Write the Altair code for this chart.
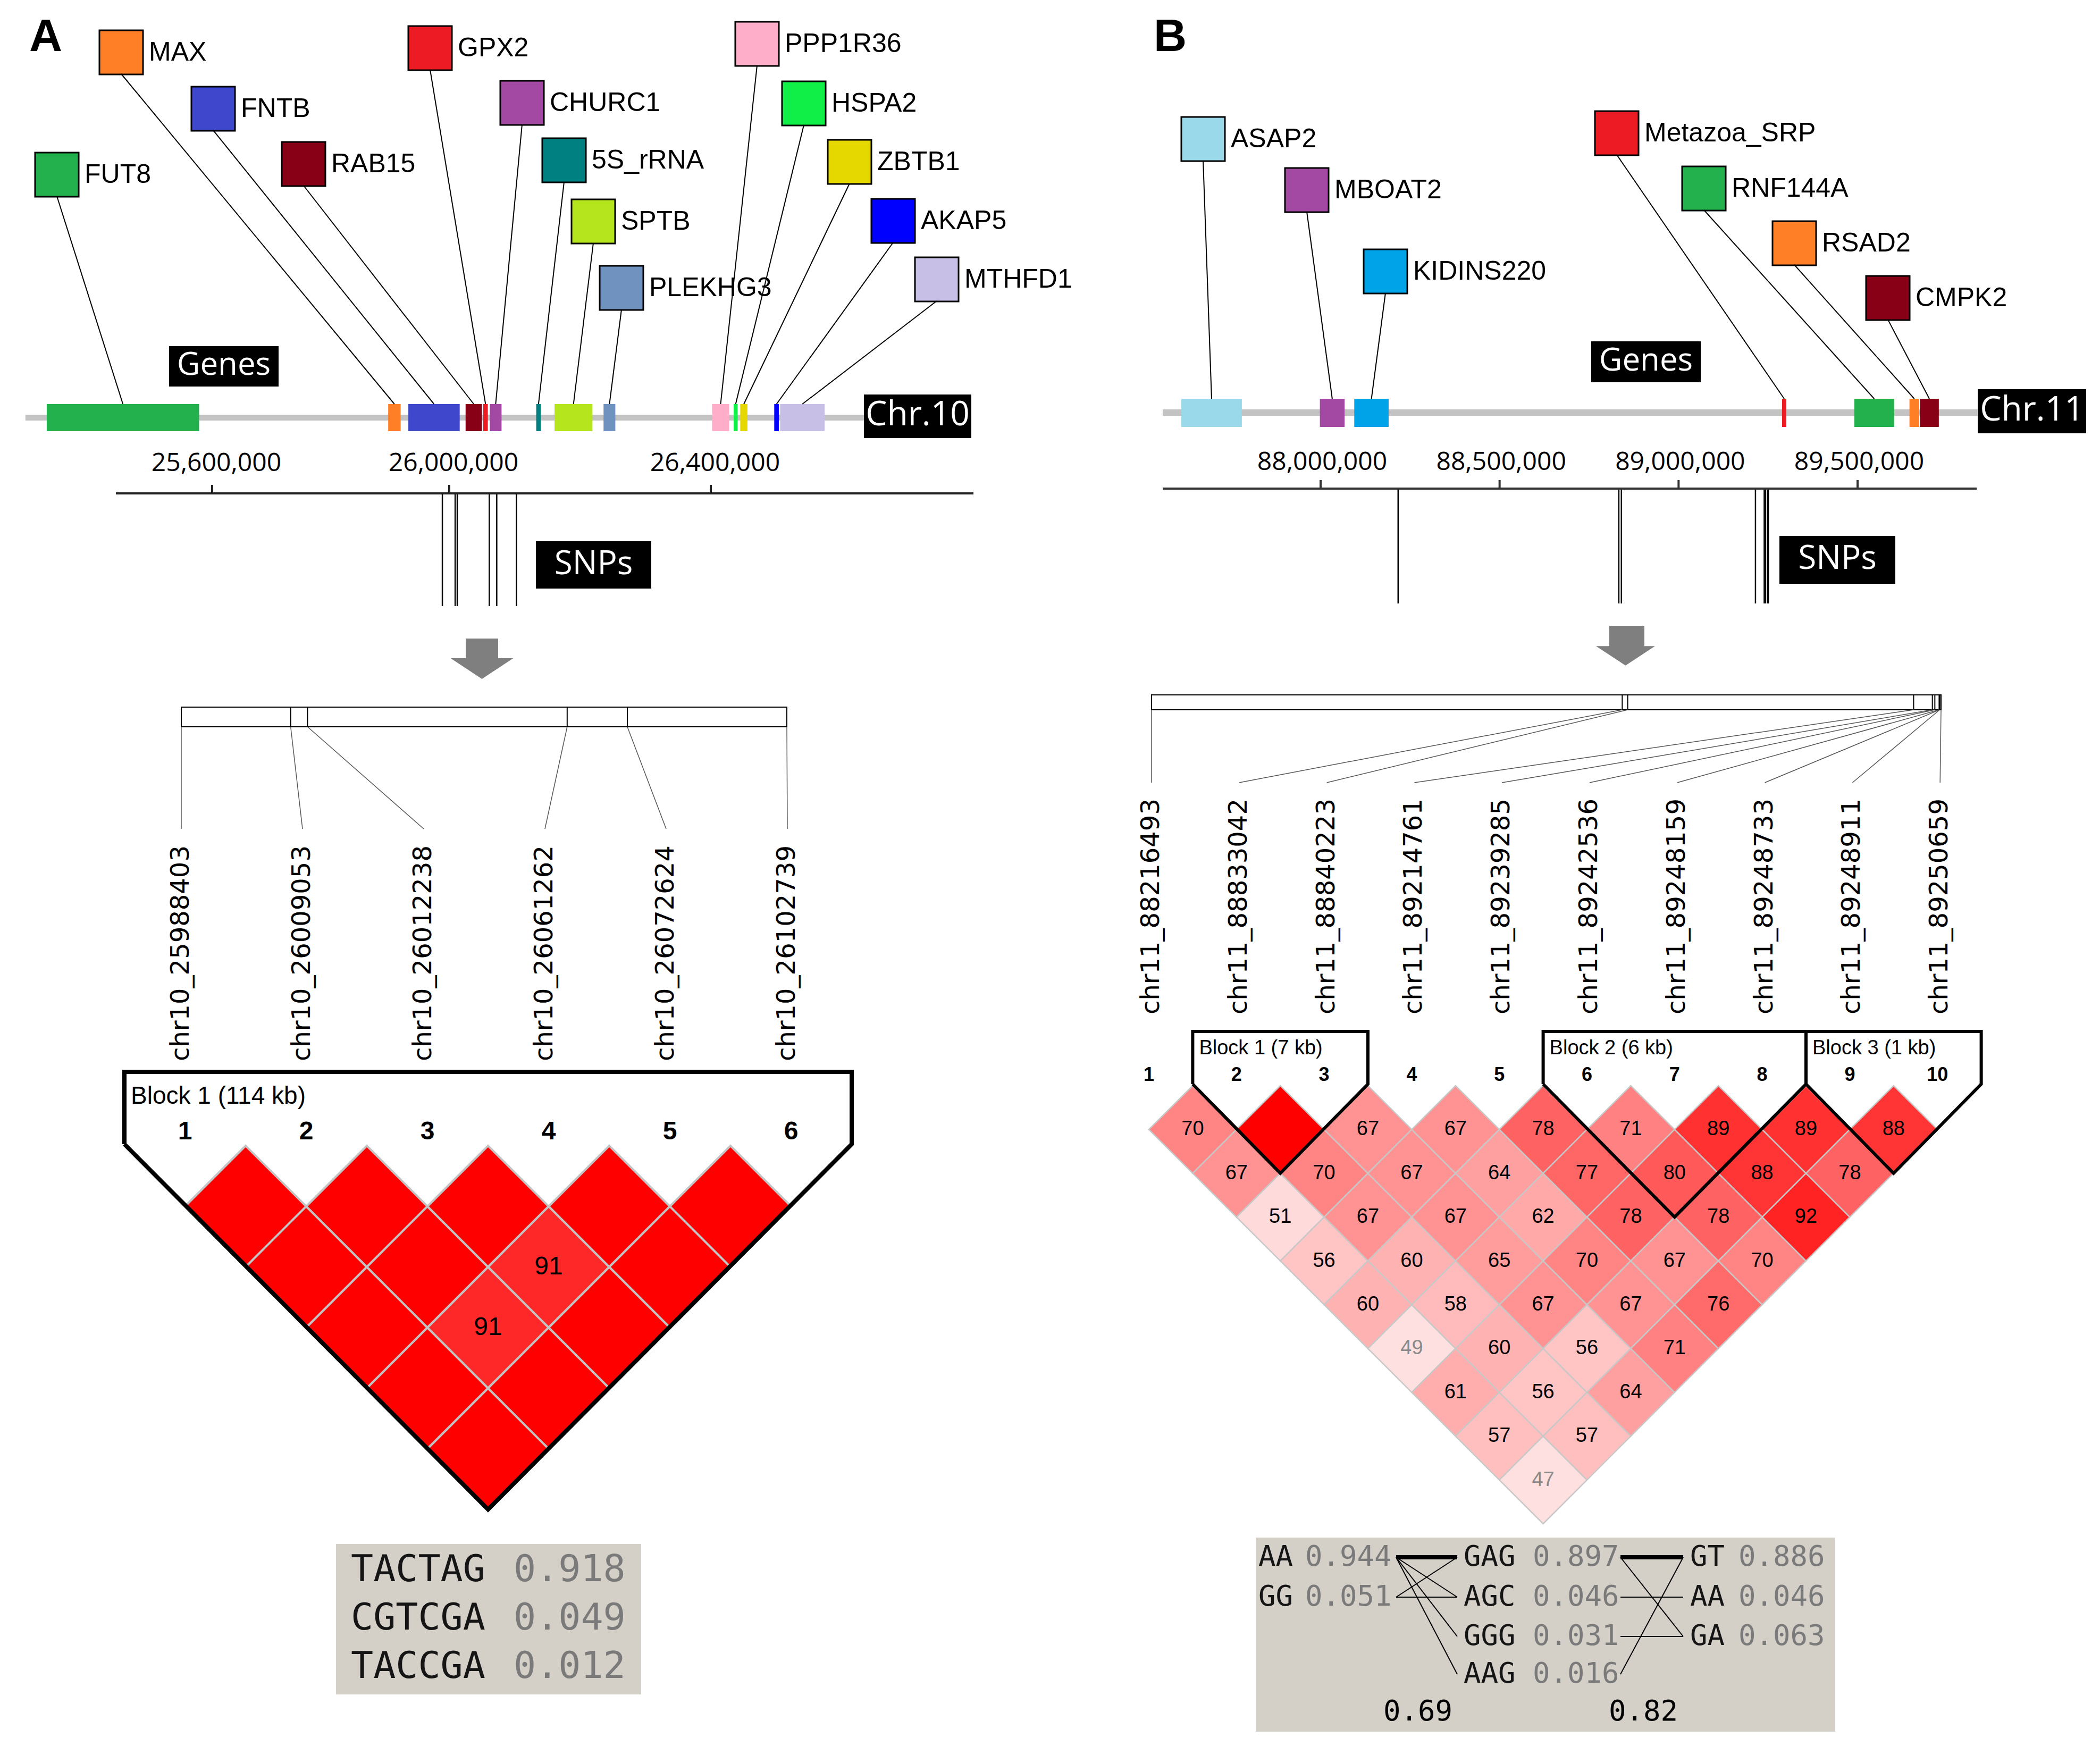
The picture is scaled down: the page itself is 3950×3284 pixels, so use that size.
import altair as alt
import pandas as pd

# ================= DATA: panel A (Chr.10) =================
A_GENE_NAMES = ["FUT8", "MAX", "FNTB", "RAB15", "GPX2", "CHURC1", "5S_rRNA", "SPTB",
                "PLEKHG3", "PPP1R36", "HSPA2", "ZBTB1", "AKAP5", "MTHFD1"]
A_GENE_START = [25321000, 25897000, 25931000, 26025000, 26052000, 26062000, 26133000,
                26161000, 26236000, 26402000, 26435000, 26445000, 26497000, 26506000]
A_GENE_END = [25578000, 25918000, 26016000, 26050000, 26059000, 26080000, 26140000,
              26219000, 26254000, 26428000, 26441000, 26456000, 26504000, 26574000]
A_GENE_COLORS = ["#22b14c", "#ff7f27", "#3f48cc", "#880015", "#ed1c24", "#a349a4", "#008080",
                 "#b5e61d", "#7092be", "#ffaec9", "#10ef48", "#e5d800", "#0000ff", "#c8bfe7"]
A_CHR_SPAN = [25285000, 26637000]
A_CHR_NAME = "Chr.10"
A_TICKS = [25600000, 26000000, 26400000]
A_TICK_LABELS = ["25,600,000", "26,000,000", "26,400,000"]
A_SNP_POS = [25988403, 26009053, 26012238, 26061262, 26072624, 26102739]
A_SNP_NAMES = ["chr10_25988403", "chr10_26009053", "chr10_26012238",
               "chr10_26061262", "chr10_26072624", "chr10_26102739"]
# D' (x100) of marker i with markers i+1..n
A_DPRIME = [
    [100, 100, 100, 100, 100],
    [100, 100, 91, 100],
    [100, 91, 100],
    [100, 100],
    [100],
]
A_BLOCKS = [("Block 1 (114 kb)", 1, 6)]
A_HAPS = ["TACTAG", "CGTCGA", "TACCGA"]
A_HAP_FREQ = ["0.918", "0.049", "0.012"]

# ================= DATA: panel B (Chr.11) =================
B_GENE_NAMES = ["ASAP2", "MBOAT2", "KIDINS220", "Metazoa_SRP", "RNF144A", "RSAD2", "CMPK2"]
B_GENE_START = [87611000, 87998000, 88094000, 89289000, 89491000, 89645000, 89674000]
B_GENE_END = [87780000, 88067000, 88190000, 89301000, 89602000, 89672000, 89727000]
B_GENE_COLORS = ["#99d9ea", "#a349a4", "#00a2e8", "#ed1c24", "#22b14c", "#ff7f27", "#880015"]
B_CHR_SPAN = [87559000, 89835000]
B_CHR_NAME = "Chr.11"
B_TICKS = [88000000, 88500000, 89000000, 89500000]
B_TICK_LABELS = ["88,000,000", "88,500,000", "89,000,000", "89,500,000"]
B_SNP_POS = [88216493, 88833042, 88840223, 89214761, 89239285,
             89242536, 89248159, 89248733, 89248911, 89250659]
B_SNP_NAMES = ["chr11_88216493", "chr11_88833042", "chr11_88840223", "chr11_89214761",
               "chr11_89239285", "chr11_89242536", "chr11_89248159", "chr11_89248733",
               "chr11_89248911", "chr11_89250659"]
B_DPRIME = [
    [70, 67, 51, 56, 60, 49, 61, 57, 47],
    [100, 70, 67, 60, 58, 60, 56, 57],
    [67, 67, 67, 65, 67, 56, 64],
    [67, 64, 62, 70, 67, 71],
    [78, 77, 78, 67, 76],
    [71, 80, 78, 70],
    [89, 88, 92],
    [89, 78],
    [88],
]
B_BLOCKS = [("Block 1 (7 kb)", 2, 3), ("Block 2 (6 kb)", 6, 8), ("Block 3 (1 kb)", 9, 10)]
B_HAP_COLS = [["AA", "GG"], ["GAG", "AGC", "GGG", "AAG"], ["GT", "AA", "GA"]]
B_HAP_FREQS = [["0.944", "0.051"], ["0.897", "0.046", "0.031", "0.016"], ["0.886", "0.046", "0.063"]]
# crossing links between haplotype columns: (from row, to row, thick?)
B_LINKS_12 = [(0, 0, True), (0, 1, False), (0, 2, False), (0, 3, False), (1, 0, False), (1, 1, False)]
B_LINKS_23 = [(0, 0, True), (0, 2, False), (1, 1, False), (2, 2, False), (3, 0, False)]
B_MULTI_DPRIME = ["0.69", "0.82"]

# ================= LAYOUT (page pixels) =================
A_TICK_PX = [399, 845, 1337]
B_TICK_PX = [2484, 3494]       # 88.0M and 89.5M


def a_x(bp):
    t, p = A_TICKS, A_TICK_PX
    if bp <= t[1]:
        return p[0] + (bp - t[0]) * (p[1] - p[0]) / (t[1] - t[0])
    return p[1] + (bp - t[1]) * (p[2] - p[1]) / (t[2] - t[1])


def b_x(bp):
    return B_TICK_PX[0] + (bp - 88000000) * (B_TICK_PX[1] - B_TICK_PX[0]) / 1500000.0


A_SQ = [(66, 287), (187, 57), (360, 163), (530, 267), (768, 49), (941, 152), (1020, 260),
        (1075, 375), (1128, 500), (1383, 41), (1471, 153), (1557, 263), (1639, 374), (1721, 484)]
B_SQ = [(2222, 220), (2417, 316), (2565, 469), (3000, 209), (3164, 313), (3334, 416), (3510, 519)]
SQ = 82

R, L, P, D, TRI = [], [], [], [], []
TXT = {}


def rect(x, x2, y, y2, fill, stroke="transparent", sw=0):
    R.append(dict(x=x, x2=x2, y=y, y2=y2, fill=fill, stroke=stroke, sw=sw))


def rule(x, y, x2, y2, col="#000000", sw=2):
    L.append(dict(x=x, y=y, x2=x2, y2=y2, col=col, sw=sw))


def text(key, x, y, t, fs, col="#000000"):
    TXT.setdefault(key, []).append(dict(x=x, y=y, t=t, fs=fs, col=col))


def dcolor(v):
    d = v / 100.0
    if d < 0.5:
        g = 224
    else:
        g = int((255 - 32) * 2 * (1 - d))
    return "#ff%02x%02x" % (g, g)


# haplotype box backgrounds
rect(632, 1206, 2904, 3187, "#d4d0c8")
rect(2362, 3452, 2892, 3257, "#d4d0c8")

# ---- gene tracks ----
for (span, fx, ytr, yg, genes, st, en, cols, sqs) in [
        (A_CHR_SPAN, a_x, (780, 791), (760, 811), A_GENE_NAMES, A_GENE_START, A_GENE_END, A_GENE_COLORS, A_SQ),
        (B_CHR_SPAN, b_x, (770, 782), (750, 803), B_GENE_NAMES, B_GENE_START, B_GENE_END, B_GENE_COLORS, B_SQ)]:
    rect(fx(span[0]), fx(span[1]), ytr[0], ytr[1], "#c3c3c3")
    for g, s, e, c, (sx, sy) in zip(genes, st, en, cols, sqs):
        gx0, gx1 = fx(s), fx(e)
        rect(gx0, max(gx1, gx0 + 4), yg[0], yg[1], c)
        rule(sx + SQ / 2, sy + SQ, (gx0 + gx1) / 2, yg[0], "#000000", 2)
        rect(sx, sx + SQ, sy, sy + SQ + 1, c, "#000000", 3)
        text("gene", sx + SQ + 11, sy + SQ / 2 + 1, g, 50)

# black label boxes
for (x0, x1, y0, y1, t, fs) in [(318, 524, 651, 727, "Genes", 60), (1625, 1827, 742, 824, A_CHR_NAME, 64),
                                (1008, 1225, 1018, 1107, "SNPs", 62), (2993, 3199, 642, 719, "Genes", 60),
                                (3720, 3924, 732, 815, B_CHR_NAME, 64), (3347, 3565, 1008, 1098, "SNPs", 62)]:
    rect(x0, x1, y0, y1, "#000000")
    text("box", (x0 + x1) / 2, (y0 + y1) / 2 - 2, t, fs, "#ffffff")

# axes
rule(218, 928, 1831, 928, "#222222", 4)
for t, lab in zip(A_TICKS, A_TICK_LABELS):
    rule(a_x(t), 912, a_x(t), 928, "#222222", 4)
    text("tick", a_x(t) + 8, 872, lab, 48)
rule(2187, 919, 3718, 919, "#333333", 4)
for t, lab in zip(B_TICKS, B_TICK_LABELS):
    rule(b_x(t), 903, b_x(t), 919, "#333333", 4)
    text("tick", b_x(t) + 3, 870, lab, 48)
for p in A_SNP_POS:
    rule(a_x(p), 930, a_x(p), 1140, "#000000", 2.5)
for p in B_SNP_POS:
    rule(b_x(p), 921, b_x(p), 1135, "#000000", 2.5)

# arrows
rect(876, 937, 1201, 1240, "#7f7f7f")
TRI.append(dict(x=906.5, y=1257.5, s=118 ** 2))
rect(3027, 3093, 1177, 1216, "#7f7f7f")
TRI.append(dict(x=3057.5, y=1233.5, s=111 ** 2))

# ---- haploview panels ----
panels = [
    dict(pos=A_SNP_POS, names=A_SNP_NAMES, bar=(341, 1480, 1330, 1367), lab_top=1559, lab_bot=1996,
         x1=348, h=114.0, y0=2155, dp=A_DPRIME, blocks=A_BLOCKS, btop=2016, lab_dx=-7,
         bfs=46, blab_y=2062, num_y=2129, nfs=48, cfs=48, bsw=8, cst="#c4c4c4", csw=4),
    dict(pos=B_SNP_POS, names=B_SNP_NAMES, bar=(2166, 3651, 1307, 1335), lab_top=1472, lab_bot=1908,
         x1=2161, h=82.4, y0=2042, dp=B_DPRIME, blocks=B_BLOCKS, btop=1940, lab_dx=5,
         bfs=38, blab_y=1972, num_y=2022, nfs=36, cfs=38, bsw=6, cst="#c8c8c8", csw=2.5),
]
gid = 0
for pn in panels:
    bx0, bx1, by0, by1 = pn["bar"]
    rect(bx0, bx1, by0, by1, "#ffffff", "#000000", 2)
    pos = pn["pos"]
    n = len(pos)
    h = pn["h"]
    xs = [pn["x1"] + 2 * h * k for k in range(n)]
    for k, p in enumerate(pos):
        mx = bx0 + (p - pos[0]) / (pos[-1] - pos[0]) * (bx1 - bx0)
        lx = xs[k] + pn["lab_dx"]
        rule(mx, by0, mx, by1, "#000000", 2)
        rule(mx, by1, lx, pn["lab_top"], "#555555", 1.5)
        text("snp", lx, pn["lab_bot"], pn["names"][k], 48)
        text("num", xs[k], pn["num_y"], str(k + 1), pn["nfs"])
    for i, row in enumerate(pn["dp"]):
        for dj, v in enumerate(row):
            j = i + 1 + dj
            cx = (xs[i] + xs[j]) / 2
            cy = pn["y0"] + (j - i) * h
            D.append(dict(x=cx, y=cy, s=(2 * h) ** 2, fill=dcolor(v), st=pn["cst"], sw=pn["csw"]))
            if v < 100:
                text("cell", cx, cy, str(v), pn["cfs"], "#8a8a8a" if v < 50 else "#000000")
    for (lab, a, b) in pn["blocks"]:
        xa, xb = xs[a - 1], xs[b - 1]
        ycorner = pn["y0"] - 3
        pts = [(xa - h, ycorner), (xa - h, pn["btop"]), (xb + h, pn["btop"]), (xb + h, ycorner),
               ((xa + xb) / 2, pn["y0"] + (b - a + 1) * h), (xa - h, ycorner)]
        for o, (px, py) in enumerate(pts):
            P.append(dict(x=px, y=py, g=gid, o=o, sw=pn["bsw"]))
        gid += 1
        text("block", xa - h + 12, pn["blab_y"], lab, pn["bfs"])

# haplotype text A
for r, (hp, fq) in enumerate(zip(A_HAPS, A_HAP_FREQ)):
    y = 2953 + r * 91
    text("hapA", 660, y, hp, 70, "#151515")
    text("hapA", 966, y, fq, 70, "#7a7a7a")

# haplotype text B
B_ROW_Y = [2929, 3004, 3078, 3149]
B_COL_X = [(2367, 2455), (2753, 2883), (3179, 3270)]
for c, (haps, frs) in enumerate(zip(B_HAP_COLS, B_HAP_FREQS)):
    for r, (hp, fq) in enumerate(zip(haps, frs)):
        text("hapB", B_COL_X[c][0], B_ROW_Y[r], hp, 54, "#151515")
        text("hapB", B_COL_X[c][1], B_ROW_Y[r], fq, 54, "#7a7a7a")
for links, (xl, xr) in [(B_LINKS_12, (2626, 2741)), (B_LINKS_23, (3048, 3166))]:
    for (a, b, thick) in links:
        rule(xl, B_ROW_Y[a], xr, B_ROW_Y[b], "#000000", 8 if thick else 2)
text("multi", 2667, 3220, B_MULTI_DPRIME[0], 54)
text("multi", 3091, 3220, B_MULTI_DPRIME[1], 54)

text("letter", 55, 96, "A", 86)
text("letter", 2170, 96, "B", 86)

# ================= CHART =================
XS = alt.Scale(domain=[8, 3942], nice=False, zero=False)
YS = alt.Scale(domain=[8, 3276], nice=False, zero=False, reverse=True)


def X():
    return alt.X("x:Q", scale=XS, axis=None)


def Y():
    return alt.Y("y:Q", scale=YS, axis=None)


rect_layer = alt.Chart(pd.DataFrame(R)).mark_rect().encode(
    x=X(), x2="x2:Q", y=Y(), y2="y2:Q",
    color=alt.Color("fill:N", scale=None),
    stroke=alt.Stroke("stroke:N", scale=None),
    strokeWidth=alt.StrokeWidth("sw:Q", scale=None),
)
rule_layer = alt.Chart(pd.DataFrame(L)).mark_rule().encode(
    x=X(), x2="x2:Q", y=Y(), y2="y2:Q",
    color=alt.Color("col:N", scale=None),
    strokeWidth=alt.StrokeWidth("sw:Q", scale=None),
)
tri_layer = alt.Chart(pd.DataFrame(TRI)).mark_point(
    shape="M-1,-0.33L1,-0.33L0,0.33Z", filled=True, opacity=1, color="#7f7f7f"
).encode(x=X(), y=Y(), size=alt.Size("s:Q", scale=None))
diamond_layer = alt.Chart(pd.DataFrame(D)).mark_point(
    shape="M-1,0L0,-1L1,0L0,1Z", filled=True, opacity=1
).encode(
    x=X(), y=Y(), size=alt.Size("s:Q", scale=None),
    fill=alt.Fill("fill:N", scale=None),
    stroke=alt.Stroke("st:N", scale=None),
    strokeWidth=alt.StrokeWidth("sw:Q", scale=None),
)
block_layer = alt.Chart(pd.DataFrame(P)).mark_line(color="#000000", strokeJoin="miter").encode(
    x=X(), y=Y(), order="o:Q", detail="g:N",
    strokeWidth=alt.StrokeWidth("sw:Q", scale=None),
)


def tlayer(key, font, align="left", baseline="middle", weight="normal", angle=0):
    m = alt.Chart(pd.DataFrame(TXT[key])).mark_text(
        font=font, align=align, baseline=baseline, fontWeight=weight, angle=angle)
    return m.encode(x=X(), y=Y(), text="t:N",
                    size=alt.Size("fs:Q", scale=None),
                    color=alt.Color("col:N", scale=None))


layers = [
    rect_layer, rule_layer, tri_layer, diamond_layer, block_layer,
    tlayer("gene", "Liberation Sans"),
    tlayer("box", "Open Sans", align="center"),
    tlayer("tick", "Open Sans", align="center"),
    tlayer("snp", "DejaVu Sans", align="left", angle=270),
    tlayer("num", "Liberation Sans", align="center", weight="bold"),
    tlayer("cell", "Liberation Sans", align="center"),
    tlayer("block", "Liberation Sans"),
    tlayer("hapA", "DejaVu Sans Mono"),
    tlayer("hapB", "DejaVu Sans Mono"),
    tlayer("multi", "DejaVu Sans Mono", align="center"),
    tlayer("letter", "Liberation Sans", baseline="alphabetic", weight="bold"),
]

chart = alt.layer(*layers).properties(
    width=3934, height=3268, padding=0,
    autosize=alt.AutoSizeParams(type="none"),
).configure_view(stroke=None)

chart.save("out.html", embed_options={"renderer": "svg", "actions": False})
